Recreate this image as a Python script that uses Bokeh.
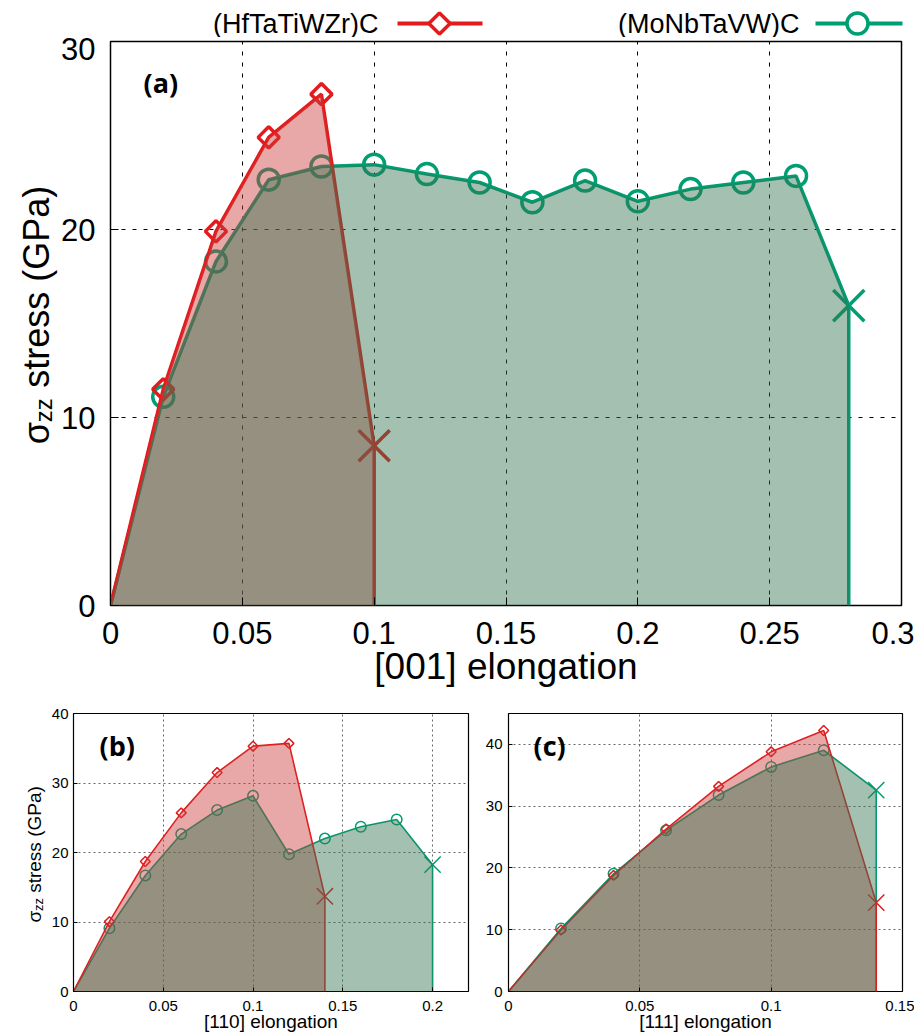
import numpy as np
from bokeh.plotting import figure
from bokeh.models import Range1d, FixedTicker, NumeralTickFormatter, Label
from bokeh.layouts import column, row
from bokeh.embed import file_html
from bokeh.resources import INLINE
from bokeh.core.properties import value

# ---------------- data ----------------
series_names = ["(HfTaTiWZr)C", "(MoNbTaVW)C"]

# panel (a): [001] elongation
a_x_hf = [0, 0.02, 0.04, 0.06, 0.08, 0.10]
a_y_hf = [0, 11.5, 19.9, 24.9, 27.2, 8.5]
a_x_mo = [0, 0.02, 0.04, 0.06, 0.08, 0.10, 0.12, 0.14, 0.16, 0.18, 0.20, 0.22, 0.24, 0.26, 0.28]
a_y_mo = [0, 11.1, 18.3, 22.65, 23.35, 23.45, 22.95, 22.5, 21.45, 22.6, 21.5, 22.15, 22.5, 22.85, 15.95]

# panel (b): [110] elongation
b_x_hf = [0, 0.02, 0.04, 0.06, 0.08, 0.10, 0.12, 0.14]
b_y_hf = [0, 10.05, 18.7, 25.7, 31.5, 35.3, 35.7, 13.7]
b_x_mo = [0, 0.02, 0.04, 0.06, 0.08, 0.10, 0.12, 0.14, 0.16, 0.18, 0.20]
b_y_mo = [0, 9.1, 16.7, 22.65, 26.1, 28.15, 19.75, 22.0, 23.7, 24.75, 18.25]

# panel (c): [111] elongation
c_x_hf = [0, 0.02, 0.04, 0.06, 0.08, 0.10, 0.12, 0.14]
c_y_hf = [0, 9.95, 18.8, 26.3, 33.2, 38.8, 42.25, 14.4]
c_x_mo = [0, 0.02, 0.04, 0.06, 0.08, 0.10, 0.12, 0.14]
c_y_mo = [0, 10.2, 19.05, 26.1, 31.8, 36.35, 39.05, 32.6]

a_xticks = [0, 0.05, 0.1, 0.15, 0.2, 0.25, 0.3]
a_yticks = [0, 10, 20, 30]
b_xticks = [0, 0.05, 0.1, 0.15, 0.2]
b_yticks = [0, 10, 20, 30, 40]
c_xticks = [0, 0.05, 0.1, 0.15]
c_yticks = [0, 10, 20, 30, 40]

a_xlim, a_ylim = (0, 0.3), (0, 30)
b_xlim, b_ylim = (0, 0.22), (0, 40)
c_xlim, c_ylim = (0, 0.15), (0, 45)

a_xlabel = "[001] elongation"
b_xlabel = "[110] elongation"
c_xlabel = "[111] elongation"
ylabel_parts = ["σ", "zz", "stress (GPa)"]

# ---------------- styles ----------------
RED = "#e41a1c"
GREEN = "#009e73"
RED_FILL = "#cc3e3e"
GREEN_FILL = "#33734f"
FILL_ALPHA = 0.45
FONT = "Liberation Sans"
BOLD_FONT = "Open Sans"


def blank(width, height, yspan=None):
    f = figure(width=width, height=height, x_range=Range1d(0, width),
               y_range=Range1d(0, yspan if yspan else height),
               toolbar_location=None, output_backend="svg", x_axis_location=None,
               y_axis_location=None, min_border=0, title=None)
    f.grid.visible = False
    f.outline_line_color = None
    return f


def style_axes(p, xticks, yticks, tick_size, tick_in, xstand, ystand, grid_color, grid_dash,
               outline_w, xlabel, label_size, label_stand):
    p.xaxis.ticker = FixedTicker(ticks=xticks)
    p.yaxis.ticker = FixedTicker(ticks=yticks)
    p.xaxis.formatter = NumeralTickFormatter(format="0.[00]")
    p.yaxis.formatter = NumeralTickFormatter(format="0.[00]")
    for ax in (p.xaxis, p.yaxis):
        ax.major_label_text_font = FONT
        ax.major_label_text_font_size = tick_size
        ax.major_label_text_color = "black"
        ax.major_tick_in = tick_in
        ax.major_tick_out = 0
        ax.minor_tick_in = 0
        ax.minor_tick_out = 0
        ax.major_tick_line_color = "black"
        ax.axis_line_color = None
    p.xaxis.major_label_standoff = xstand
    p.yaxis.major_label_standoff = ystand
    p.xaxis.axis_label = xlabel
    p.xaxis.axis_label_text_font = FONT
    p.xaxis.axis_label_text_font_style = "normal"
    p.xaxis.axis_label_text_font_size = label_size
    p.xaxis.axis_label_text_color = "black"
    p.xaxis.axis_label_standoff = label_stand
    p.grid.grid_line_color = grid_color
    p.grid.grid_line_dash = grid_dash
    p.grid.grid_line_width = 1
    p.outline_line_color = "black"
    p.outline_line_width = outline_w
    p.outline_line_alpha = 1


def draw_series(p, xs, ys, color, marker, msize, xsize, lw, mlw, angle=0.0):
    p.line(xs, ys, line_color=color, line_width=lw)
    p.segment(x0=[xs[-1]], y0=[ys[-1]], x1=[xs[-1]], y1=[0], line_color=color, line_width=lw)
    p.scatter(xs[1:-1], ys[1:-1], marker=marker, size=msize, angle=angle,
              fill_color=None, line_color=color, line_width=mlw)
    p.scatter([xs[-1]], [ys[-1]], marker="x", size=xsize, line_color=color, line_width=mlw)


def draw_fill(p, xs, ys, color):
    p.varea(x=xs, y1=[0] * len(xs), y2=ys, fill_color=color, fill_alpha=FILL_ALPHA)


def ylabel_strip(width, height, frame_h, xc, y0, big, small, sub_shift):
    # the strip's frame is aligned with the neighbouring plot's frame (frame_h pixels tall)
    s = blank(width, height, frame_h)
    sig_w = 0.6 * big
    zz_w = 1.0 * small
    sp_w = 0.278 * big
    common = dict(angle=np.pi / 2, text_align="left", text_baseline="middle",
                  text_font=value(FONT), text_color="black")
    s.text(x=[xc], y=[y0], text=[ylabel_parts[0]], text_font_size=value(f"{big}px"), **common)
    s.text(x=[xc + sub_shift], y=[y0 + sig_w], text=[ylabel_parts[1]],
           text_font_size=value(f"{small}px"), **common)
    s.text(x=[xc], y=[y0 + sig_w + zz_w + sp_w], text=[ylabel_parts[2]],
           text_font_size=value(f"{big}px"), **common)
    return s


def add_tag(p, x0, y1, xoff, yoff, text, size):
    p.add_layout(Label(text=text, x=x0, y=y1, x_offset=xoff, y_offset=yoff, text_align="left",
                       text_baseline="middle", text_font=BOLD_FONT, text_font_style="bold",
                       text_font_size=f"{size}px", text_color="black"))


# ---------------- legend strip ----------------
leg = blank(914, 37)
leg.text(x=[378, 799], y=[14, 14], text=series_names, text_align="right",
         text_baseline="middle", text_font=value(FONT), text_font_size=value("27px"),
         text_color="black")
leg.segment(x0=[397], y0=[14], x1=[482], y1=[14], line_color=RED, line_width=4)
leg.scatter([439], [14], marker="square", angle=np.pi / 4, size=15, fill_color="white",
            line_color=RED, line_width=3.5)
leg.segment(x0=[815], y0=[14], x1=[902], y1=[14], line_color=GREEN, line_width=4)
leg.scatter([857], [14], marker="circle", size=21, fill_color="white",
            line_color=GREEN, line_width=3.5)

# ---------------- panel (a) ----------------
sa = ylabel_strip(58, 663, 556, 36, 159, 36, 24, 7)
pa = figure(width=856, height=663, x_range=Range1d(*a_xlim), y_range=Range1d(*a_ylim),
            toolbar_location=None, output_backend="svg", title=None,
            min_border_left=51, min_border_right=13, min_border_top=4, min_border_bottom=95)
style_axes(pa, a_xticks, a_yticks, "31px", 8, 16, 15, "black", "4 7", 1.5,
           a_xlabel, "37px", -1)
draw_series(pa, a_x_mo, a_y_mo, GREEN, "circle", 21, 44, 3.5, 3.5)
draw_series(pa, a_x_hf, a_y_hf, RED, "square", 15, 44, 3.5, 3.5, angle=np.pi / 4)
draw_fill(pa, a_x_hf, a_y_hf, RED_FILL)
draw_fill(pa, a_x_mo, a_y_mo, GREEN_FILL)
add_tag(pa, a_xlim[0], a_ylim[1], 33, -41, "(a)", 27)

# ---------------- panel (b) ----------------
sb = ylabel_strip(48, 334, 278, 34, 69, 19, 13, 4)
pb = figure(width=430, height=334, x_range=Range1d(*b_xlim), y_range=Range1d(*b_ylim),
            toolbar_location=None, output_backend="svg", title=None,
            min_border_left=23, min_border_right=10, min_border_top=13, min_border_bottom=43)
style_axes(pb, b_xticks, b_yticks, "15px", 4, 9, 5, "#666666", "2 3", 1.2,
           b_xlabel, "19px", -3)
draw_series(pb, b_x_mo, b_y_mo, GREEN, "circle", 10.5, 23, 1.6, 1.5)
draw_series(pb, b_x_hf, b_y_hf, RED, "square", 7, 23, 1.6, 1.5, angle=np.pi / 4)
draw_fill(pb, b_x_hf, b_y_hf, RED_FILL)
draw_fill(pb, b_x_mo, b_y_mo, GREEN_FILL)
add_tag(pb, b_xlim[0], b_ylim[1], 26, -32, "(b)", 27)

# ---------------- panel (c) ----------------
pc = figure(width=436, height=334, x_range=Range1d(*c_xlim), y_range=Range1d(*c_ylim),
            toolbar_location=None, output_backend="svg", title=None,
            min_border_left=30, min_border_right=12, min_border_top=13, min_border_bottom=43)
style_axes(pc, c_xticks, c_yticks, "15px", 4, 9, 6, "#666666", "2 3", 1.2,
           c_xlabel, "19px", -3)
draw_series(pc, c_x_mo, c_y_mo, GREEN, "circle", 10.5, 23, 1.6, 1.5)
draw_series(pc, c_x_hf, c_y_hf, RED, "square", 7, 23, 1.6, 1.5, angle=np.pi / 4)
draw_fill(pc, c_x_hf, c_y_hf, RED_FILL)
draw_fill(pc, c_x_mo, c_y_mo, GREEN_FILL)
add_tag(pc, c_xlim[0], c_ylim[1], 25, -32, "(c)", 27)

layout = column(leg, row(sa, pa), row(sb, pb, pc))
open("out.html", "w").write(file_html(layout, INLINE))
